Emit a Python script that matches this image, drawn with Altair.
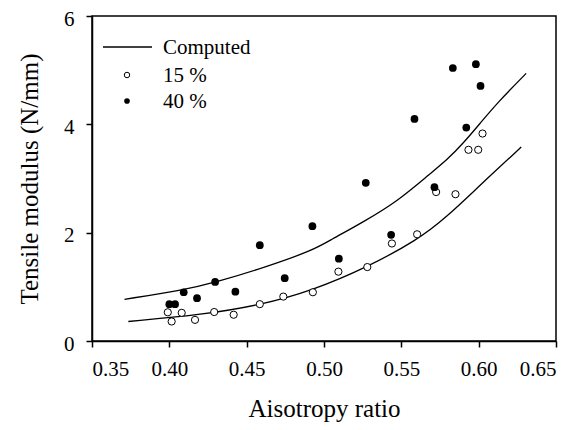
import altair as alt
import pandas as pd

# 15 % (open circles)
x15 = [0.399, 0.4015, 0.408, 0.4166, 0.429, 0.4416, 0.4585, 0.4737, 0.4928, 0.5093,
       0.528, 0.5439, 0.5602, 0.5725, 0.585, 0.5934, 0.5997, 0.6025]
y15 = [0.53, 0.36, 0.52, 0.39, 0.535, 0.485, 0.68, 0.82, 0.90, 1.28,
       1.365, 1.80, 1.97, 2.75, 2.71, 3.53, 3.53, 3.83]

# 40 % (filled circles)
x40 = [0.400, 0.4037, 0.4093, 0.4179, 0.4296, 0.4427, 0.4585, 0.4746, 0.4925, 0.5096,
       0.527, 0.5434, 0.5585, 0.5714, 0.5833, 0.592, 0.5982, 0.6012]
y40 = [0.68, 0.68, 0.90, 0.79, 1.09, 0.91, 1.77, 1.16, 2.12, 1.52,
       2.92, 1.96, 4.10, 2.84, 5.04, 3.94, 5.11, 4.71]

# Computed curves
xc_up = [0.371, 0.409, 0.4296, 0.463, 0.4932, 0.5039, 0.5255, 0.5471, 0.5686, 0.5794,
         0.590, 0.601, 0.6118, 0.6307]
yc_up = [0.77, 0.94, 1.08, 1.37, 1.68, 1.86, 2.20, 2.57, 3.09, 3.34,
         3.65, 4.02, 4.39, 4.94]
xc_lo = [0.3735, 0.4199, 0.4587, 0.4932, 0.5277, 0.5602, 0.5794, 0.601, 0.6275]
yc_lo = [0.36, 0.48, 0.66, 0.94, 1.36, 1.86, 2.29, 2.88, 3.58]

x_ticks = [0.35, 0.40, 0.45, 0.50, 0.55, 0.60, 0.65]
y_ticks = [0, 2, 4, 6]
legend_labels = ["Computed", "15 %", "40 %"]

FONT = "Liberation Serif"

df15 = pd.DataFrame({"x": x15, "y": y15})
df40 = pd.DataFrame({"x": x40, "y": y40})
dfc = pd.concat([
    pd.DataFrame({"x": xc_up, "y": yc_up, "curve": "upper"}),
    pd.DataFrame({"x": xc_lo, "y": yc_lo, "curve": "lower"}),
])

xs = alt.X("x:Q", scale=alt.Scale(domain=[0.35, 0.65], nice=False, zero=False),
           axis=alt.Axis(values=x_ticks, format=".2f", title="Aisotropy ratio"))
ys = alt.Y("y:Q", scale=alt.Scale(domain=[0, 6], nice=False),
           axis=alt.Axis(values=y_ticks, format="d", title="Tensile modulus (N/mm)",
                         labelOffset=3))

curves = alt.Chart(dfc).mark_line(color="black", strokeWidth=1.3, interpolate="basis").encode(
    x=xs, y=ys, detail="curve:N")
p15 = alt.Chart(df15).mark_point(shape="circle", filled=True, fill="white", stroke="black",
                                 strokeWidth=1, size=52, opacity=1).encode(x=xs, y=ys)
p40 = alt.Chart(df40).mark_point(shape="circle", filled=True, color="black",
                                 size=60, opacity=1).encode(x=xs, y=ys)

# legend
leg_df = pd.DataFrame({"label": legend_labels})


def pick(i):
    return alt.Chart(leg_df).transform_filter(alt.datum.label == legend_labels[i])


leg_line = pick(0).mark_rule(color="black", strokeWidth=1.3).encode(
    x=alt.value(11), x2=alt.value(60), y=alt.value(31))
leg_open = pick(1).mark_point(
    shape="circle", filled=True, fill="white", stroke="black", strokeWidth=1, size=30, opacity=1
).encode(x=alt.value(35), y=alt.value(59))
leg_fill = pick(2).mark_point(
    shape="circle", filled=True, color="black", size=32, opacity=1
).encode(x=alt.value(35), y=alt.value(85))
text_style = dict(font=FONT, fontSize=21, align="left", baseline="middle", color="black")
leg_t0 = pick(0).mark_text(**text_style).encode(x=alt.value(71), y=alt.value(32), text="label:N")
leg_t1 = pick(1).mark_text(**text_style).encode(x=alt.value(71), y=alt.value(60), text="label:N")
leg_t2 = pick(2).mark_text(**text_style).encode(x=alt.value(71), y=alt.value(86), text="label:N")

chart = alt.layer(curves, p15, p40, leg_line, leg_open, leg_fill, leg_t0, leg_t1, leg_t2).properties(
    width=464, height=325,
    autosize=alt.AutoSizeParams(type="none"),
    padding={"left": 84, "top": 8, "right": 16, "bottom": 81},
).configure_view(stroke="black", strokeWidth=1.5).configure_axis(
    domainColor="black", domainWidth=1.5, tickColor="black", tickWidth=1.5, tickSize=6,
    labelFont=FONT, titleFont=FONT, labelFontSize=21, titleFontSize=25,
    labelColor="black", titleColor="black", titleFontWeight="normal", grid=False,
).configure_axisX(labelPadding=11, titlePadding=17).configure_axisY(
    labelPadding=12, titlePadding=21)

chart.save("out.html", embed_options={"renderer": "svg", "actions": False})
